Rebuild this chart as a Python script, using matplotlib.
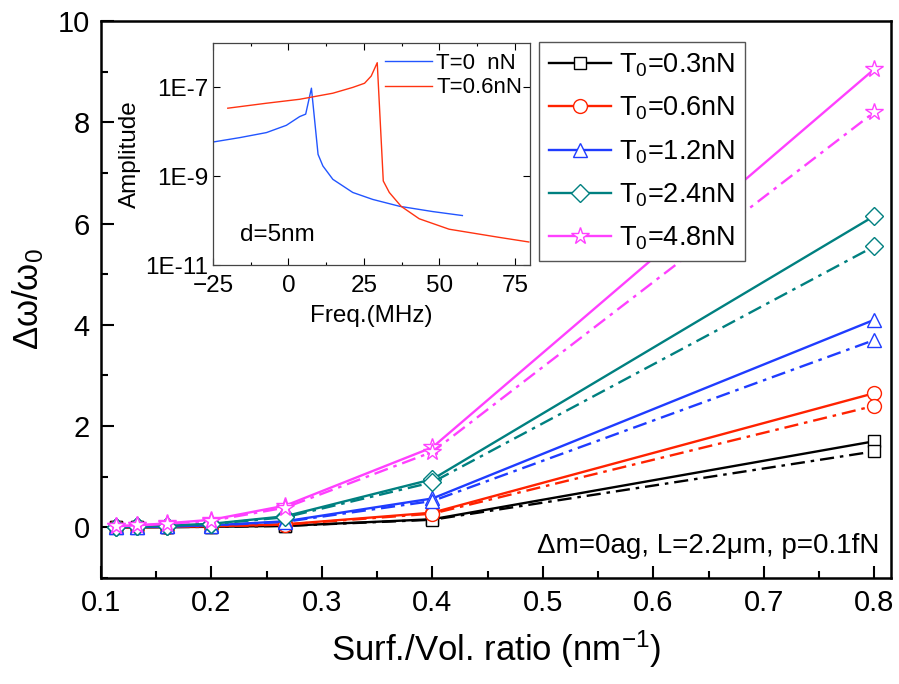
import numpy as np
import matplotlib.pyplot as plt

plt.rcParams['font.family'] = ['Liberation Sans', 'DejaVu Sans']
plt.rcParams['mathtext.fontset'] = 'custom'
plt.rcParams['mathtext.rm'] = 'Liberation Sans'
plt.rcParams['mathtext.it'] = 'Liberation Sans'

# main data: surface/volume ratio vs relative frequency shift
ratio = [0.114, 0.133, 0.16, 0.2, 0.267, 0.4, 0.8]
labels = ['T$_0$=0.3nN', 'T$_0$=0.6nN', 'T$_0$=1.2nN', 'T$_0$=2.4nN', 'T$_0$=4.8nN']
shift_solid = [
    [0.002, 0.003, 0.005, 0.01, 0.03, 0.16, 1.70],
    [0.004, 0.006, 0.01, 0.02, 0.06, 0.29, 2.65],
    [0.008, 0.012, 0.02, 0.04, 0.12, 0.57, 4.10],
    [0.013, 0.02, 0.035, 0.07, 0.22, 0.95, 6.15],
    [0.025, 0.04, 0.08, 0.15, 0.43, 1.58, 9.05],
]
shift_dash = [
    [0.002, 0.003, 0.005, 0.01, 0.028, 0.15, 1.50],
    [0.004, 0.006, 0.01, 0.018, 0.055, 0.27, 2.40],
    [0.007, 0.011, 0.018, 0.036, 0.11, 0.52, 3.70],
    [0.012, 0.018, 0.032, 0.065, 0.20, 0.89, 5.55],
    [0.023, 0.037, 0.07, 0.13, 0.39, 1.49, 8.20],
]
colors = ['black', '#ff2200', '#1f3cff', '#008080', '#ff40ff']
markers = ['s', 'o', '^', 'D', '*']
msizes = [9, 10, 10, 9, 13]

# inset data: amplitude spectra
freq_t0 = [-24.9, -16.1, -7.3, -0.7, 3.7, 5.7, 7.6, 9.8, 11.4, 14.7, 21.3, 27.9, 36.8, 47.7, 57.6]
amp_t0 = [5.9e-9, 7.4e-9, 9.6e-9, 1.4e-8, 2.2e-8, 2.5e-8, 9.6e-8, 3.1e-9, 1.7e-9,
          8.5e-10, 4.3e-10, 3.0e-10, 2.1e-10, 1.6e-10, 1.3e-10]
freq_t06 = [-20.1, -7.3, 3.7, 14.7, 21.3, 25.2, 27.4, 29.4, 31.4, 33.4, 37.3, 43.3, 53.2, 69.7, 79.6]
amp_t06 = [3.4e-8, 4.4e-8, 5.4e-8, 7.4e-8, 1.0e-7, 1.24e-7, 1.8e-7, 3.6e-7, 7.8e-10,
           4.3e-10, 2.1e-10, 1.1e-10, 6.4e-11, 4.2e-11, 3.3e-11]

fig = plt.figure(figsize=(8.99, 6.84), dpi=100)
ax = fig.add_axes([0.1123, 0.155, 0.8787, 0.8143])

handles = []
for i in range(5):
    h, = ax.plot(ratio, shift_solid[i], color=colors[i], lw=1.7, marker=markers[i],
                 ms=msizes[i], mfc='white', mec=colors[i], mew=1.0, label=labels[i])
    ax.plot(ratio, shift_dash[i], color=colors[i], lw=1.7, dashes=(6, 2.5, 1.5, 2.5),
            marker=markers[i], ms=msizes[i], mfc='white', mec=colors[i], mew=1.0)
    handles.append(h)

ax.set_xlim(0.1, 0.815)
ax.set_ylim(-1, 10)
ax.set_xticks(np.arange(0.1, 0.81, 0.1))
ax.set_xticks(np.arange(0.15, 0.81, 0.1), minor=True)
ax.set_yticks([0, 2, 4, 6, 8, 10])
ax.set_yticks([-1, 1, 3, 5, 7, 9], minor=True)
ax.tick_params(which='both', direction='in', top=False, right=False, width=1.5, labelsize=21, pad=8)
ax.tick_params(which='major', length=9)
ax.tick_params(which='minor', length=5)
for s in ax.spines.values():
    s.set_linewidth(1.8)
ax.set_xlabel('Surf./Vol. ratio (nm$^{-1}$)', fontsize=25, labelpad=8)
ax.set_ylabel(r'$\Delta\omega/\omega_0$', fontsize=25, labelpad=8)

leg = ax.legend(handles=handles, loc='upper right', bbox_to_anchor=(0.815, 0.962),
                borderaxespad=0, fontsize=19.5, handlelength=2.3, labelspacing=0.58,
                fancybox=False, edgecolor='#555555', framealpha=1, borderpad=0.35,
                handletextpad=0.3)
leg.get_frame().set_linewidth(1.0)

ax.text(0.986, 0.045, 'Δm=0ag, L=2.2μm, p=0.1fN', transform=ax.transAxes,
        ha='right', va='baseline', fontsize=20)

# inset
ins = fig.add_axes([213 / 899, 1 - 265 / 684, 317 / 899, 222 / 684])
ins.plot(freq_t0, amp_t0, color='#2255ff', lw=1.0, label='T=0  nN')
ins.plot(freq_t06, amp_t06, color='#ff3311', lw=1.0, label='T=0.6nN')
ins.set_yscale('log')
ins.set_xlim(-25, 80)
ins.set_ylim(1e-11, 1e-6)
ins.set_xticks([-25, 0, 25, 50, 75])
ins.set_xticks([-12.5, 12.5, 37.5, 62.5], minor=True)
ins.set_yticks([1e-11, 1e-9, 1e-7])
ins.set_yticklabels(['1E-11', '1E-9', '1E-7'])
ins.tick_params(which='both', direction='in', top=True, right=True, labelsize=17.5, width=0.8)
ins.tick_params(axis='x', pad=7)
ins.tick_params(which='major', length=5)
ins.tick_params(which='minor', length=2.5)
for s in ins.spines.values():
    s.set_linewidth(0.9)
    s.set_color('#444444')
ins.set_xlabel('Freq.(MHz)', fontsize=17.5, labelpad=6)
ins.set_ylabel('Amplitude', fontsize=17.5, labelpad=3)
ins.legend(loc='upper right', bbox_to_anchor=(0.99, 0.975), frameon=False, fontsize=16,
           handlelength=2.1, borderaxespad=0, borderpad=0.2, labelspacing=0.15,
           handletextpad=0.2)
ins.text(0.085, 0.11, 'd=5nm', transform=ins.transAxes, fontsize=17.5, va='baseline')

fig.savefig('out.png', dpi=100)
